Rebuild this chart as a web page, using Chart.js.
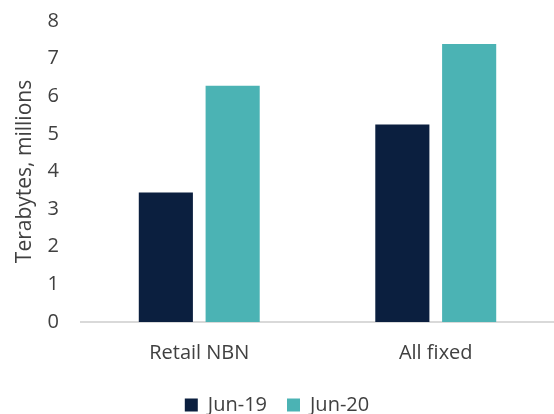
<!DOCTYPE html>
<html>
<head>
<meta charset="utf-8">
<script src="https://cdn.jsdelivr.net/npm/chart.js@4"></script>
<style>
html,body{margin:0;padding:0;background:#fff;}
#wrap{width:554px;height:414px;position:relative;}
</style>
</head>
<body>
<div id="wrap"><canvas id="c" width="554" height="414"></canvas></div>
<script>
const categories = ["Retail NBN", "All fixed"];
const seriesNames = ["Jun-19", "Jun-20"];
const jun19 = [3.44, 5.25];
const jun20 = [6.28, 7.39];
const yTicks = [0, 1, 2, 3, 4, 5, 6, 7, 8];

const FONT = "'Open Sans', 'Liberation Sans', sans-serif";
const TEXT = "#404040";

new Chart(document.getElementById('c'), {
  type: 'bar',
  data: {
    labels: categories,
    datasets: [
      { label: seriesNames[0], data: jun19, backgroundColor: '#0B1F3F', borderWidth: 0 },
      { label: seriesNames[1], data: jun20, backgroundColor: '#4BB3B4', borderWidth: 0 }
    ]
  },
  options: {
    responsive: false,
    animation: false,
    events: [],
    categoryPercentage: 0.565,
    barPercentage: 0.81,
    layout: { padding: { top: 21, right: 0, bottom: -11, left: 0 } },
    plugins: {
      tooltip: { enabled: false },
      legend: {
        position: 'bottom',
        labels: {
          font: { family: FONT, size: 20 },
          color: TEXT,
          boxWidth: 13,
          boxHeight: 13,
          padding: 20
        }
      }
    },
    scales: {
      x: {
        grid: { display: false, drawTicks: false },
        border: { display: true, color: '#D9D9D9', width: 2 },
        ticks: { font: { family: FONT, size: 20 }, color: TEXT, padding: 19 },
        afterFit: (s) => { s.height = 53; s.paddingLeft = 0; s.paddingRight = 0; }
      },
      y: {
        min: 0, max: 8,
        afterBuildTicks: (s) => { s.ticks = yTicks.map(v => ({ value: v })); },
        grid: { display: false, drawTicks: false },
        border: { display: false },
        ticks: { font: { family: FONT, size: 20 }, color: TEXT, padding: 22 },
        title: { display: true, text: 'Terabytes, millions', font: { family: FONT, size: 21 }, color: TEXT, padding: { top: 12, bottom: 4 } },
        afterFit: (s) => { s.width = 81; s.paddingTop = 0; s.paddingBottom = 0; }
      }
    }
  }
});
</script>
</body>
</html>
